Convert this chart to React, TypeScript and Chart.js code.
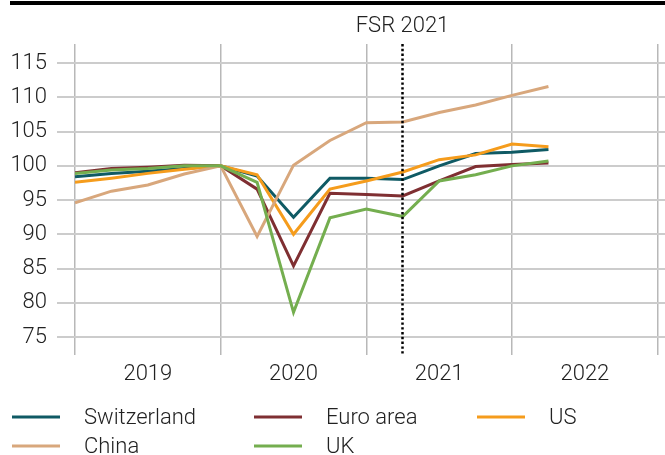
import React, { useEffect, useRef } from "react";
import { Chart, registerables } from "chart.js";

Chart.register(...registerables);

const quarters = [
  "2019 Q1", "2019 Q2", "2019 Q3", "2019 Q4",
  "2020 Q1", "2020 Q2", "2020 Q3", "2020 Q4",
  "2021 Q1", "2021 Q2", "2021 Q3", "2021 Q4",
  "2022 Q1", "2022 Q2",
];
const years = ["2019", "2020", "2021", "2022"];

const switzerland = [98.4, 98.9, 99.2, 99.6, 100, 98.5, 92.5, 98.2, 98.2, 98.0, 100.0, 101.8, 102.0, 102.4];
const euroArea = [99.0, 99.6, 99.8, 100.1, 100, 96.6, 85.4, 96.0, 95.8, 95.6, 97.8, 99.9, 100.2, 100.4];
const us = [97.6, 98.2, 98.9, 99.5, 100, 98.7, 90.0, 96.6, 97.8, 99.1, 100.9, 101.6, 103.2, 102.8];
const china = [94.6, 96.3, 97.2, 98.8, 100, 89.7, 100.1, 103.7, 106.3, 106.4, 107.8, 108.9, 110.3, 111.6];
const uk = [98.9, 99.4, 99.6, 100.0, 100, 97.6, 78.6, 92.4, 93.7, 92.6, 97.8, 98.7, 100.0, 100.7];

const seriesNames = ["Switzerland", "Euro area", "US", "China", "UK"];
const seriesColors = ["#0f5a64", "#7f2f32", "#f59c1c", "#d8a77c", "#74ae4f"];

const fsrIndex = 9;
const fsrLabel = "FSR 2021";

const FONT = "Roboto, 'Liberation Sans', sans-serif";
const TEXT = "#222222";

export default function App() {
  const ref = useRef<HTMLCanvasElement>(null);

  useEffect(() => {
    if (!ref.current) return;
    const values = [switzerland, euroArea, us, china, uk];
    const datasets = values.map((arr, k) => ({
      label: seriesNames[k],
      data: arr.map((v, i) => ({ x: i, y: v, q: quarters[i] })),
      borderColor: seriesColors[k],
      backgroundColor: seriesColors[k],
      borderWidth: 3,
      pointRadius: 0,
      tension: 0,
      fill: false,
      order: 5 - k,
    }));

    const decor = {
      id: "decor",
      beforeDraw(chart: any) {
        const c = chart.ctx;
        c.save();
        c.fillStyle = "#000";
        c.fillRect(10, 1, 655, 4);
        c.restore();
      },
      afterDatasetsDraw(chart: any) {
        const { ctx, chartArea, scales } = chart;
        const x = Math.round(scales.x.getPixelForValue(fsrIndex)) - 0.5;
        ctx.save();
        ctx.strokeStyle = "#000";
        ctx.lineWidth = 2.5;
        ctx.setLineDash([2.4, 2.4]);
        ctx.beginPath();
        ctx.moveTo(x, chartArea.top);
        ctx.lineTo(x, chartArea.bottom + 18);
        ctx.stroke();
        ctx.setLineDash([]);
        ctx.fillStyle = TEXT;
        ctx.font = `300 22px ${FONT}`;
        ctx.textAlign = "center";
        ctx.textBaseline = "middle";
        ctx.fillText(fsrLabel, x, 26);
        ctx.restore();
      },
      afterDraw(chart: any) {
        const ctx = chart.ctx;
        const cols = [12, 254, 477];
        const rows = [417, 446];
        ctx.save();
        ctx.font = `300 22px ${FONT}`;
        ctx.textAlign = "left";
        ctx.textBaseline = "middle";
        chart.data.datasets.forEach((ds: any, i: number) => {
          const cx = cols[i % 3];
          const cy = rows[Math.floor(i / 3)];
          ctx.strokeStyle = ds.borderColor;
          ctx.lineWidth = 3;
          ctx.beginPath();
          ctx.moveTo(cx, cy);
          ctx.lineTo(cx + 48, cy);
          ctx.stroke();
          ctx.fillStyle = TEXT;
          ctx.fillText(ds.label, cx + 72, cy + 1);
        });
        ctx.restore();
      },
    };

    const chart = new Chart(ref.current, {
      type: "line",
      data: { datasets },
      options: {
        responsive: false,
        animation: false,
        layout: { padding: { top: 44, bottom: 68, left: 0, right: 0 } },
        plugins: { legend: { display: false }, tooltip: { enabled: false } },
        scales: {
          x: {
            type: "linear",
            min: 0,
            max: 16.2,
            afterBuildTicks: (s: any) => {
              s.ticks = Array.from({ length: 17 }, (_, i) => ({ value: i }));
            },
            afterFit: (s: any) => {
              s.height = 50;
            },
            grid: {
              color: (c: any) =>
                c.tick && c.tick.value % 4 === 0 ? "#b8b8b8" : "rgba(0,0,0,0)",
              lineWidth: 1.5,
              tickLength: 18,
              drawTicks: true,
            },
            border: { display: false },
            ticks: {
              autoSkip: false,
              maxRotation: 0,
              minRotation: 0,
              padding: 6,
              color: TEXT,
              font: { family: FONT, size: 22, weight: "300" as any },
              callback: (v: any) => (v % 4 === 2 ? years[(v - 2) / 4] : ""),
            },
          },
          y: {
            min: 75,
            max: 117.8,
            afterFit: (s: any) => {
              s.width = 75;
            },
            grid: { color: "#cccccc", lineWidth: 2, tickLength: 18 },
            border: { display: false },
            ticks: {
              stepSize: 5,
              includeBounds: false,
              padding: 10,
              color: TEXT,
              font: { family: FONT, size: 22, weight: "300" as any },
            },
          },
        },
      },
      plugins: [decor],
    });
    return () => chart.destroy();
  }, []);

  return (
    <div style={{ position: "absolute", left: 0, top: 0, width: 665, height: 455, background: "#fff" }}>
      <canvas ref={ref} width={665} height={455} style={{ display: "block" }} />
    </div>
  );
}
